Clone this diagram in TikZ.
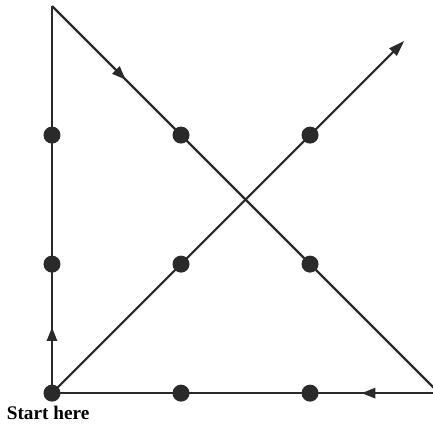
\documentclass[tikz,border=0pt]{standalone}
\usepackage{fontspec}
\setmainfont{Liberation Serif}
\usetikzlibrary{arrows.meta,decorations.markings}
\definecolor{ink}{HTML}{2A2A2A}

\begin{document}
\begin{tikzpicture}[x=2cm,y=2cm,>={Triangle[length=7pt,width=4.5pt]},
  puzzle/.style={line width=1pt,draw=ink},
  dot/.style={circle,fill=ink,inner sep=0pt,minimum size=7.5pt},
  midarrow/.style={postaction={decorate},decoration={markings,
    mark=at position #1 with {\arrow{Triangle[length=6pt,width=4.5pt]}}}}]
  \useasboundingbox (-0.403,-0.271) rectangle (2.953,3.047);
  % nine points
  \foreach \i in {0,1,2}
    \foreach \j in {0,1,2}
      \coordinate (p\i\j) at (\i,\j);
  \coordinate (top) at (0,3);
  \coordinate (corner) at (3,0);
  \coordinate (tip) at (2.73,2.73);
  % the four strokes
  \draw[puzzle,midarrow=0.17] (p00) -- (top);
  \draw[puzzle,midarrow=0.19] (top) -- (corner);
  \draw[puzzle,midarrow=0.2] (corner) -- (p00);
  \draw[puzzle,->] (p00) -- (tip);
  \foreach \i in {0,1,2}
    \foreach \j in {0,1,2}
      \node[dot] (d\i\j) at (p\i\j) {};
  \node[font=\bfseries\fontsize{8.5}{10}\selectfont,anchor=north,inner sep=0pt]
    (start) at ([xshift=-0.06cm,yshift=-0.2cm]d00.center) {Start here};
\end{tikzpicture}
\end{document}
